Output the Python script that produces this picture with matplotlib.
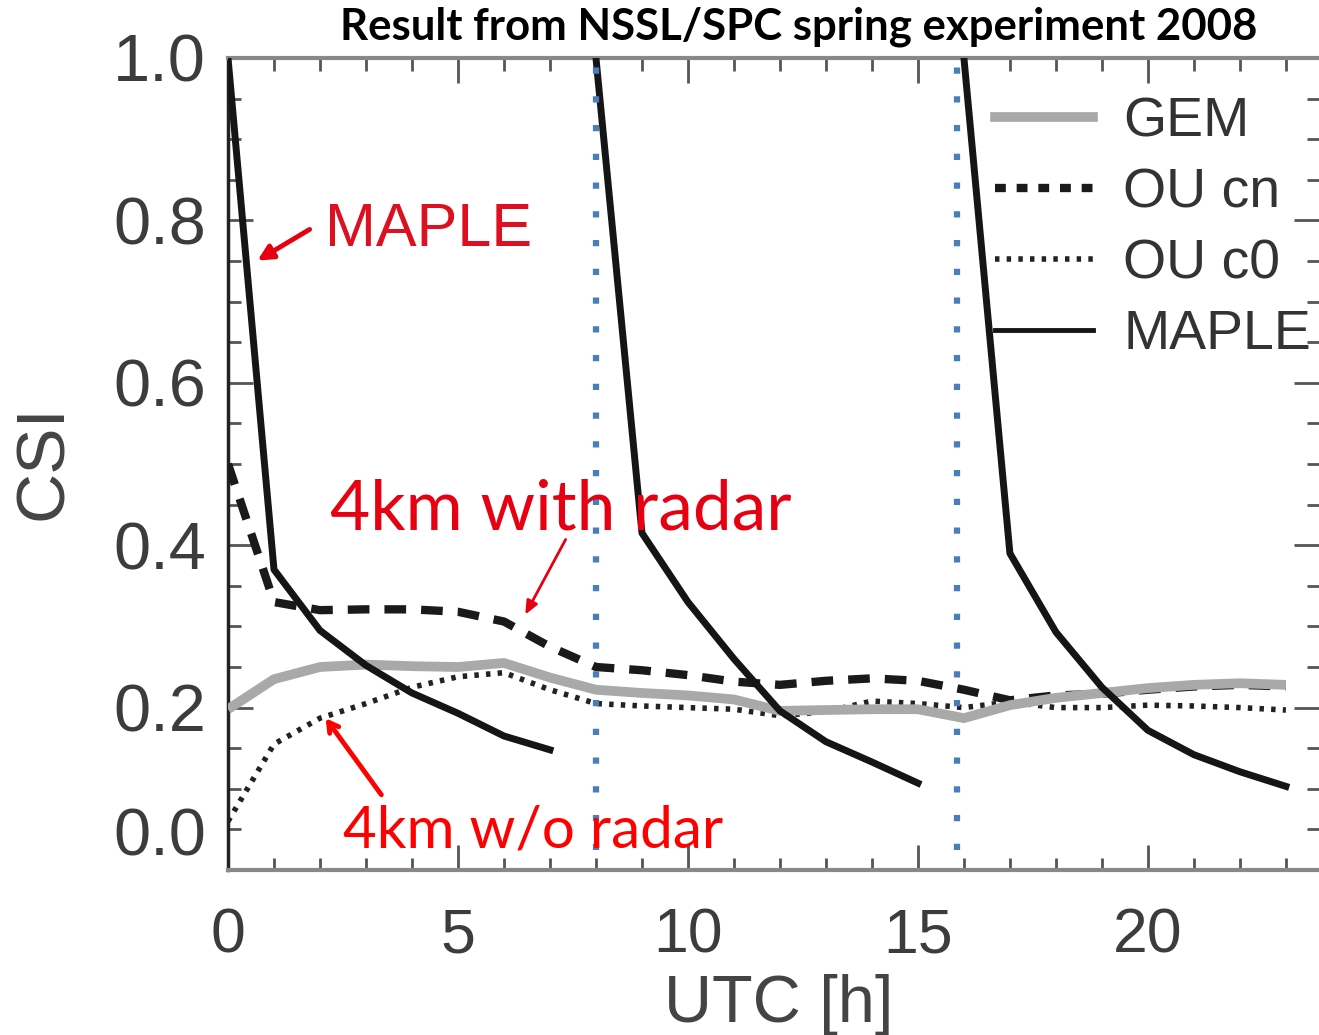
import matplotlib
matplotlib.use("Agg")
import matplotlib.pyplot as plt
from matplotlib.ticker import MultipleLocator
from matplotlib.lines import Line2D

# ---------------- data ----------------
hours = list(range(24))
gem = [0.198, 0.235, 0.250, 0.253, 0.251, 0.250, 0.255, 0.237, 0.222, 0.218, 0.215,
       0.210, 0.196, 0.197, 0.198, 0.198, 0.187, 0.203, 0.212, 0.218, 0.224, 0.228,
       0.230, 0.228]
ou_cn = [0.50, 0.33, 0.320, 0.321, 0.321, 0.318, 0.306, 0.275, 0.250, 0.246, 0.240,
         0.232, 0.228, 0.233, 0.236, 0.233, 0.222, 0.209, 0.215, 0.217, 0.222, 0.226,
         0.228, 0.226]
ou_c0 = [0.060, 0.155, 0.187, 0.205, 0.225, 0.238, 0.243, 0.222, 0.205, 0.202, 0.200,
         0.198, 0.190, 0.195, 0.208, 0.205, 0.200, 0.207, 0.200, 0.200, 0.203, 0.202,
         0.200, 0.197]
maple_h1 = [0, 1, 2, 3, 4, 5, 6, 7]
maple_v1 = [1.0, 0.37, 0.295, 0.252, 0.218, 0.193, 0.165, 0.148]
maple_h2 = [8, 9, 10, 11, 12, 13, 14, 15]
maple_v2 = [1.0, 0.415, 0.33, 0.26, 0.196, 0.158, 0.133, 0.107]
maple_h3 = [16, 17, 18, 19, 20, 21, 22, 23]
maple_v3 = [1.0, 0.39, 0.293, 0.225, 0.172, 0.142, 0.121, 0.103]
init_marks = [8, 15.85]

legend_labels = ["GEM", "OU cn", "OU c0", "MAPLE"]
y_ticks = [0, 0.2, 0.4, 0.6, 0.8, 1.0]
y_ticklabels = ["0.0", "0.2", "0.4", "0.6", "0.8", "1.0"]
title = "Result from NSSL/SPC spring experiment 2008"

# ---------------- figure ----------------
W, H = 1319, 1035
fig = plt.figure(figsize=(W / 100, H / 100), dpi=100)
ax = fig.add_axes([228 / W, 1 - 870 / H, (1319 - 228) / W, (870 - 58) / H])
ax.set_xlim(0, 23.72)
ax.set_ylim(0, 1.0)

tick_col = "#3c3c3c"
lab_font = "Liberation Sans"

c0_style = (0, (0.8, 1.3))
ax.plot(hours, ou_c0, color="#222222", lw=4, linestyle=c0_style, zorder=3)
ax.plot(hours, ou_cn, color="#1a1a1a", lw=6, linestyle=(0, (2.6, 1.8)), zorder=3)
ax.plot(hours, gem, color="#a9a9a9", lw=7, solid_capstyle="butt", zorder=4)
for hh, vv in [(maple_h1, maple_v1), (maple_h2, maple_v2), (maple_h3, maple_v3)]:
    ax.plot(hh, vv, color="#151515", lw=5, zorder=5)

for t in init_marks:
    ax.axvline(t, ymin=0.025, ymax=1.015, color="#4a7ebb", lw=4.5,
               linestyle=(0, (1, 3.6)), clip_on=False, zorder=6)

# ticks
ax.xaxis.set_major_locator(MultipleLocator(5))
ax.xaxis.set_minor_locator(MultipleLocator(1))
ax.yaxis.set_minor_locator(MultipleLocator(0.05))
ax.set_yticks(y_ticks)
ax.set_yticklabels(y_ticklabels)
ax.tick_params(which="both", direction="in", top=True, right=True, colors="#555555")
ax.tick_params(which="major", length=18, width=2)
ax.tick_params(which="minor", length=9, width=2)
ax.tick_params(axis="x", which="major", pad=26, labelsize=45, labelcolor=tick_col)
ax.tick_params(axis="y", which="major", pad=16, labelsize=48, labelcolor=tick_col)
for lab in ax.get_xticklabels() + ax.get_yticklabels():
    lab.set_fontfamily(lab_font)
ylabs = ax.get_yticklabels()
ylabs[0].set_va("bottom")

for s in ["bottom", "top"]:
    ax.spines[s].set_color("#888888")
    ax.spines[s].set_linewidth(3)
ax.spines["left"].set_color("#222222")
ax.spines["left"].set_linewidth(2.5)
ax.spines["right"].set_visible(False)

fig.text(44 / W, 1 - 462 / H, "CSI", fontsize=50, color="#444444",
         fontfamily=lab_font, ha="center", va="center", rotation=90)
fig.text(779 / W, 1 - 1005 / H, "UTC [h]", fontsize=48, color="#444444",
         fontfamily=lab_font, ha="center", va="center")

# legend
handles = [
    Line2D([], [], color="#a9a9a9", lw=7),
    Line2D([], [], color="#1a1a1a", lw=6, linestyle=(0, (1.3, 1.3))),
    Line2D([], [], color="#222222", lw=4, linestyle=c0_style),
    Line2D([], [], color="#151515", lw=3.5),
]
leg = ax.legend(handles, legend_labels, loc="upper right", frameon=False,
                prop={"family": lab_font, "size": 40}, handlelength=1.75,
                handletextpad=0.55, labelspacing=0.34, borderaxespad=0.0,
                bbox_to_anchor=(1.013, 0.98))
for txt in leg.get_texts():
    txt.set_color("#333333")

# title
fig.text(799 / W, 1 - 27 / H, title, fontsize=31.5, fontweight="bold",
         fontfamily="Lato", ha="center", va="center", color="black")

# annotations
def px(x, y):
    return ((x - 228) / 46.0, (870 - y) / 812.0)

red = "#e60012"
ax.text(*px(325, 246), "MAPLE", color="#dc1020", fontsize=44, fontfamily=lab_font,
        ha="left", va="baseline", zorder=8)
ax.annotate("", xy=px(255, 262), xytext=px(312, 228),
            arrowprops=dict(arrowstyle="-|>,head_length=0.9,head_width=0.45",
                            color=red, lw=3.5), zorder=8)
ax.text(*px(330, 530), "4km with radar", color=red, fontsize=50, fontfamily="Lato",
        ha="left", va="baseline", zorder=8)
ax.annotate("", xy=px(524, 617), xytext=px(567, 537),
            arrowprops=dict(arrowstyle="-|>,head_length=0.8,head_width=0.35",
                            color=red, lw=2), zorder=8)
ax.text(*px(343, 848), "4km w/o radar", color="#ff0000", fontsize=42, fontfamily="Lato",
        ha="left", va="baseline", zorder=8)
ax.annotate("", xy=px(324, 716), xytext=px(383, 797),
            arrowprops=dict(arrowstyle="->,head_length=0.7,head_width=0.4",
                            color="#ff0000", lw=3.5), zorder=8)

fig.savefig("out.png", dpi=100)
